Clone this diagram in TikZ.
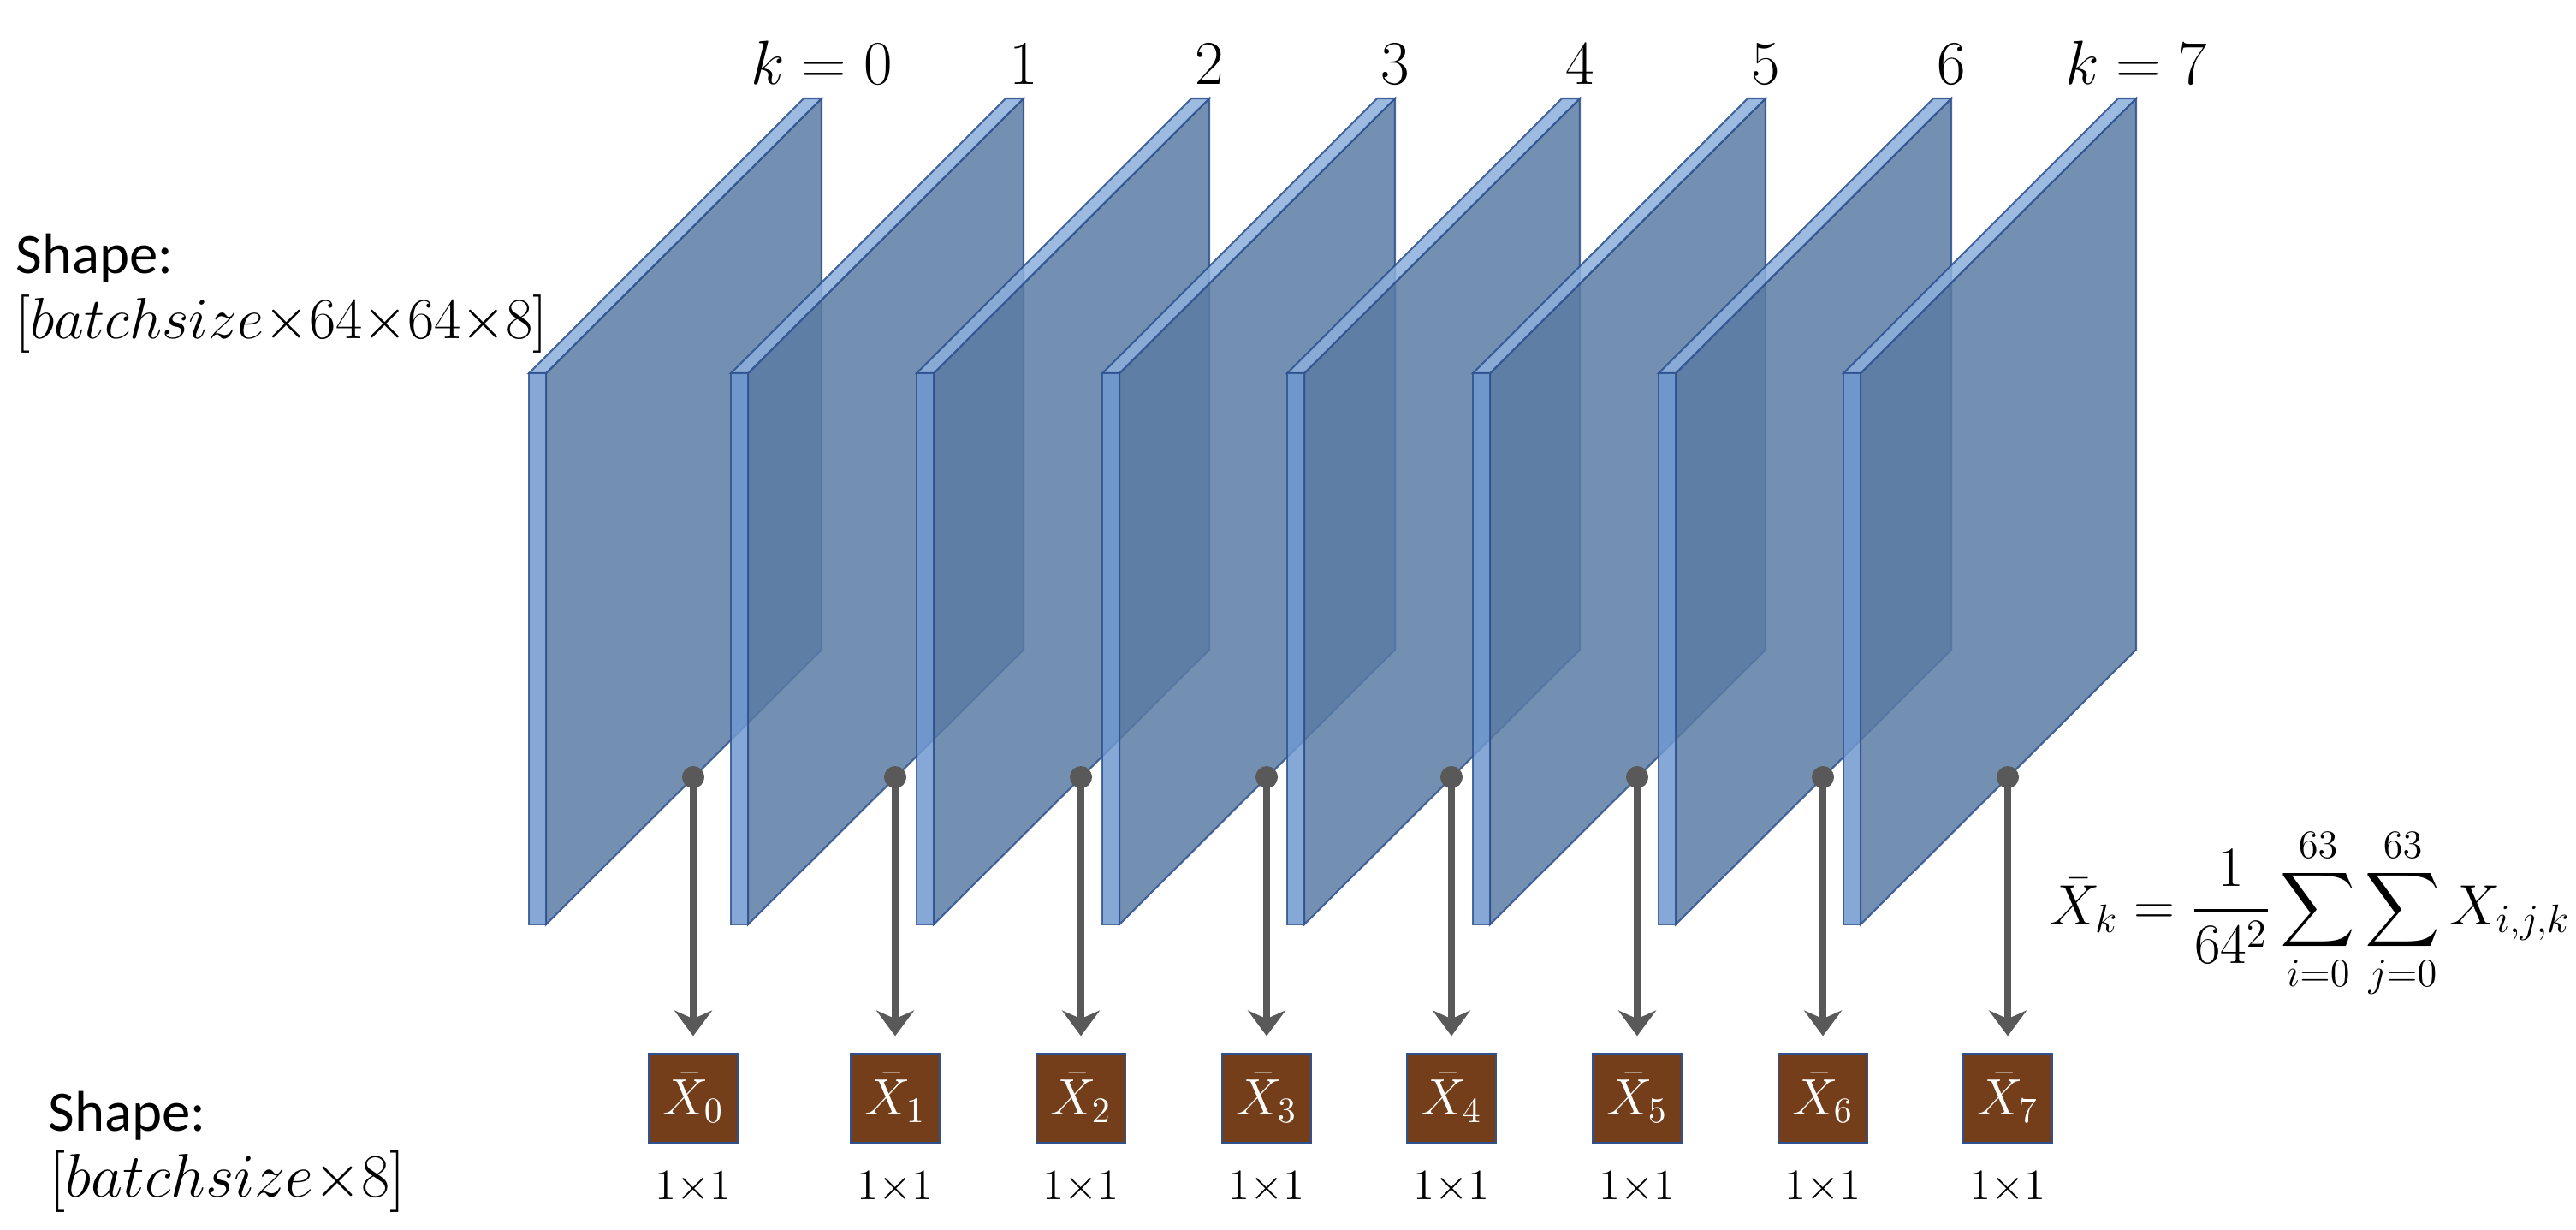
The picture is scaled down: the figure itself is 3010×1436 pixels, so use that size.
\RequirePackage{fix-cm}
\documentclass[tikz,border=0pt]{standalone}
\usepackage{amsmath}
\usepackage{exscale}
\usepackage{fontspec}
\setmainfont{Carlito}
\usetikzlibrary{arrows.meta, positioning, calc}
\definecolor{PlateFace}{RGB}{90, 123, 164}
\definecolor{PlateFront}{RGB}{112, 153, 208}
\definecolor{PlateTop}{RGB}{140, 175, 220}
\definecolor{PlateEdge}{RGB}{47, 82, 143}
\definecolor{TapGray}{RGB}{89, 89, 89}
\definecolor{MeanBrown}{RGB}{117, 62, 26}

\begin{document}
\begin{tikzpicture}[
        x=0.01cm, y=-0.01cm,
        plate/.style={draw=PlateEdge, line width=0.6pt, fill opacity=0.85, draw opacity=0.85},
        tap/.style={circle, fill=TapGray, inner sep=0pt, minimum size=0.26cm},
        mean/.style={draw=PlateEdge, line width=0.6pt, fill=MeanBrown, text=white, minimum width=1.04cm, minimum height=1.03cm, inner sep=0pt, font=\fontsize{17}{19}\selectfont},
        size/.style={font=\fontsize{14.4}{17}\selectfont},
        klab/.style={anchor=base, font=\fontsize{20.7}{24}\selectfont},
        info/.style={anchor=base west, inner sep=0pt, font=\fontsize{19}{23}\selectfont},
        arrow/.style={-{Stealth[length=8.5pt, width=12.5pt]}, line width=2.3pt, TapGray}
    ]
        \useasboundingbox (0,0) rectangle (3010,1436);

        \foreach \k/\o/\lab in {0/0/k=0, 1/236/1, 2/453/2, 3/670/3, 4/886/4, 5/1103/5, 6/1320/6, 7/1536/k=7} {
            \begin{scope}[shift={(\o,0)}]
                \filldraw[plate, fill=PlateFace] (638,436) -- (960,115) -- (960,759) -- (638,1080) -- cycle;
                \filldraw[plate, fill=PlateTop] (618,436) -- (638,436) -- (960,115) -- (939,115) -- cycle;
                \filldraw[plate, fill=PlateFront] (618,436) rectangle (638,1080);
            \end{scope}
            \node[klab] (lab\k) at (960+\o,98) {$\lab$};
            \node[tap] (tap\k) at (810+\o,908) {};
            \node[mean] (avg\k) at (810+\o,1283) {$\bar{X}_{\k}$};
            \node[size] (size\k) at (810+\o,1387) {$1{\times}1$};
            \draw[arrow, shorten >=0.2cm] (tap\k.center) -- (avg\k.north);
        }

        \node[info] (shapeIn) at (18,319) {Shape:};
        \node[info, font=\fontsize{19.3}{23}\selectfont] (dimsIn) at (18,395) {$[batchsize{\times}64{\times}64{\times}8]$};
        \node[info] (shapeOut) at (56,1321) {Shape:};
        \node[info, font=\fontsize{20.5}{24}\selectfont] (dimsOut) at (58,1398) {$[batchsize{\times}8]$};

        \node[anchor=base east, inner sep=0pt, font=\fontsize{18.9}{22}\selectfont] (meanEq) at (3004,1080)
            {$\displaystyle \bar{X}_k = \frac{1}{64^2}\sum_{i=0}^{63}\sum_{j=0}^{63} X_{i,j,k}$};
    \end{tikzpicture}
\end{document}
